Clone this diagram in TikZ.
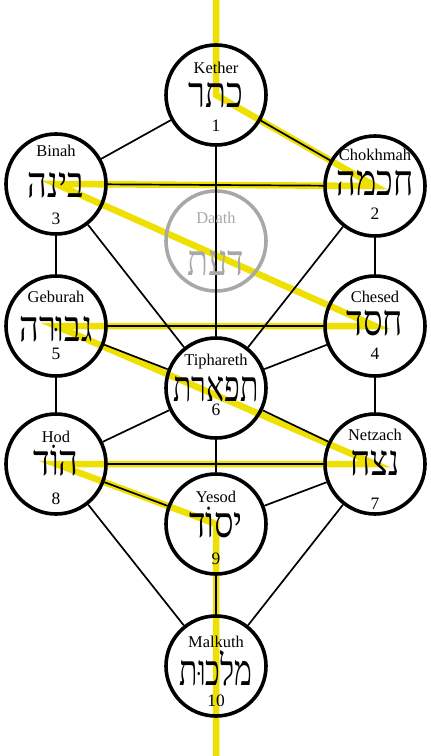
\documentclass[tikz,border=0pt]{standalone}
\usepackage{fontspec}
\setmainfont{Liberation Serif}
\newfontfamily\hebfont[Script=Hebrew, FakeStretch=0.8]{Liberation Serif}
\newfontfamily\hebnarrow[Script=Hebrew, FakeStretch=0.7]{Liberation Serif}
\TeXXeTstate=1
\usetikzlibrary{backgrounds}
\definecolor{flashyellow}{RGB}{238,224,0}
\definecolor{daathgray}{RGB}{168,168,168}
\tikzset{
  sefira/.style={circle, draw=black, line width=3.6bp, minimum size=100bp, inner sep=0pt},
  daathring/.style={sefira, draw=daathgray},
  pathline/.style={line width=1.7bp, black},
  flash/.style={line width=6.5bp, draw=flashyellow, line join=miter},
  lbl/.style={anchor=base, inner sep=0pt, font=\fontsize{16.5}{16.5}\selectfont},
  heb/.style={anchor=base, inner sep=0pt, font=\fontsize{43}{43}\hebfont},
  hebn/.style={anchor=base, inner sep=0pt, font=\fontsize{43}{43}\hebnarrow},
  num/.style={anchor=base, inner sep=0pt, font=\fontsize{17.5}{17.5}\selectfont},
}
\begin{document}
\begin{tikzpicture}[x=1bp, y=-1bp]
\useasboundingbox (0,0) rectangle (430,756);
% sefirot
\node[sefira] (kether) at (216,95) {};
\node[sefira] (chokhmah) at (375,186) {};
\node[sefira] (binah) at (56,184) {};
\node[daathring] (daath) at (216,241) {};
\node[sefira] (chesed) at (375,326) {};
\node[sefira] (geburah) at (56,326) {};
\node[sefira] (tiphareth) at (216,388) {};
\node[sefira] (netzach) at (375,464) {};
\node[sefira] (hod) at (56,464) {};
\node[sefira] (yesod) at (216,524) {};
\node[sefira] (malkuth) at (216,666) {};
\coordinate (ftop) at (216,0);
\coordinate (fbottom) at (216,756);
% lightning flash
\begin{scope}[on background layer]
\draw[flash] (ftop) -- (kether.center) -- (chokhmah.center) -- (binah.center)
  -- (chesed.center) -- (geburah.center) -- (netzach.center) -- (hod.center)
  -- (yesod.center) -- (malkuth.center) -- (fbottom);
\end{scope}
% paths
\draw[pathline] (kether) -- (chokhmah);
\draw[pathline] (kether) -- (binah);
\draw[pathline] (kether) -- (tiphareth);
\draw[pathline] (chokhmah) -- (binah);
\draw[pathline] (chokhmah) -- (chesed);
\draw[pathline] (binah) -- (geburah);
\draw[pathline] (chokhmah) -- (tiphareth);
\draw[pathline] (binah) -- (tiphareth);
\draw[pathline] (chesed) -- (geburah);
\draw[pathline] (chesed) -- (tiphareth);
\draw[pathline] (geburah) -- (tiphareth);
\draw[pathline] (chesed) -- (netzach);
\draw[pathline] (geburah) -- (hod);
\draw[pathline] (tiphareth) -- (netzach);
\draw[pathline] (tiphareth) -- (hod);
\draw[pathline] (tiphareth) -- (yesod);
\draw[pathline] (netzach) -- (hod);
\draw[pathline] (netzach) -- (yesod);
\draw[pathline] (hod) -- (yesod);
\draw[pathline] (netzach) -- (malkuth);
\draw[pathline] (hod) -- (malkuth);
\draw[pathline] (yesod) -- (malkuth);
% texts
\node[lbl] (kether-l) at (216,74) {Kether};
\node[heb] (kether-h) at (216,107) {\beginR כתר\endR};
\node[num] (kether-n) at (216,131) {1};
\node[lbl] (chokhmah-l) at (375,160) {Chokhmah};
\node[heb] (chokhmah-h) at (375,195) {\beginR חכמה\endR};
\node[num] (chokhmah-n) at (375,219) {2};
\node[lbl] (binah-l) at (56,156) {Binah};
\node[heb] (binah-h) at (56,197) {\beginR בינה\endR};
\node[num] (binah-n) at (56,224) {3};
\node[lbl, text=daathgray] (daath-l) at (216,223) {Daath};
\node[heb, text=daathgray] (daath-h) at (216,275) {\beginR דעת\endR};
\node[lbl] (chesed-l) at (375,302) {Chesed};
\node[heb] (chesed-h) at (375,335) {\beginR חסד\endR};
\node[num] (chesed-n) at (375,359) {4};
\node[lbl] (geburah-l) at (56,302) {Geburah};
\node[heb] (geburah-h) at (56,341) {\beginR גבוּרה\endR};
\node[num] (geburah-n) at (56,359) {5};
\node[lbl] (tiphareth-l) at (216,365) {Tiphareth};
\node[hebn] (tiphareth-h) at (216,401) {\beginR תפארת\endR};
\node[num] (tiphareth-n) at (216,415) {6};
\node[lbl] (netzach-l) at (375,440) {Netzach};
\node[heb] (netzach-h) at (375,475) {\beginR נצח\endR};
\node[num] (netzach-n) at (375,509) {7};
\node[lbl] (hod-l) at (56,442) {Hod};
\node[heb] (hod-h) at (56,475) {\beginR הוֹד\endR};
\node[num] (hod-n) at (56,504) {8};
\node[lbl] (yesod-l) at (216,502) {Yesod};
\node[heb] (yesod-h) at (216,537) {\beginR יסוֹד\endR};
\node[num] (yesod-n) at (216,564) {9};
\node[lbl] (malkuth-l) at (216,647) {Malkuth};
\node[hebn] (malkuth-h) at (216,685) {\beginR מלכוּת\endR};
\node[num] (malkuth-n) at (216,706) {10};
\end{tikzpicture}
\end{document}
